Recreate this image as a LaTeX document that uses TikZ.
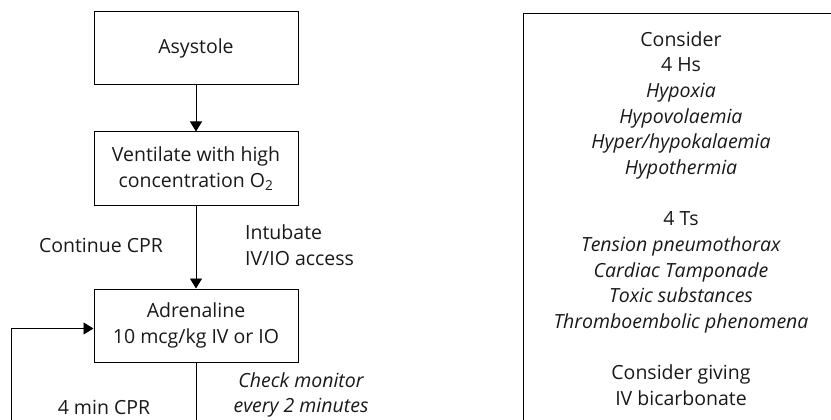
\documentclass[tikz,border=0pt]{standalone}
\usepackage{fontspec}
\setmainfont{Open Sans}
\usetikzlibrary{arrows.meta,calc}
\begin{document}
\begin{tikzpicture}[x=1pt,y=-1pt,
  txt/.style={font=\fontsize{19.5}{25.64}\selectfont, text=black!90, align=center, inner sep=0pt},
  stepbox/.style={draw, line width=1pt, rectangle, minimum width=204pt, minimum height=73pt, txt},
  conn/.style={line width=0.9pt, -{Triangle[length=10pt,width=12pt]}},
  plain/.style={line width=0.9pt}]
\useasboundingbox (0,0) rectangle (831,420);
\clip (0,0) rectangle (831,420);
\node[stepbox] (asy) at (196,48.5) {Asystole};
\node[stepbox] (ven) at (196,168.5) {Ventilate with high\\concentration O\textsubscript{2}};
\node[stepbox] (adr) at (196,325.5) {Adrenaline\\10 mcg/kg IV or IO};
\draw[conn] (asy) -- (ven);
\draw[conn] (ven) -- (adr);
\node[txt] (cont) at (101,245) {Continue CPR};
\node[txt, anchor=west, align=left] (intub) at (245,245) {Intubate\\IV/IO access};
\node[txt] (four) at (104,407) {4 min CPR};
\node[txt, font=\fontsize{19.5}{25.64}\selectfont\itshape] (check) at (301,395) {Check monitor\\every 2 minutes};
\coordinate (b1) at (196,430);
\coordinate (b2) at (11,430);
\draw[plain] (adr.south) -- (b1);
\draw[conn] (b2) |- ($(adr.west)+(0,3)$);
\draw[line width=1pt] (523,440) -- (523,14) -- (845,14);
\node[txt] (cons) at (681,218.5) {Consider\\4 Hs\\\textit{Hypoxia}\\\textit{Hypovolaemia}\\\textit{Hyper/hypokalaemia}\\\textit{Hypothermia}\\\mbox{}\\4 Ts\\\textit{Tension pneumothorax}\\\textit{Cardiac Tamponade}\\\textit{Toxic substances}\\\textit{Thromboembolic phenomena}\\\mbox{}\\Consider giving\\IV bicarbonate};
\end{tikzpicture}
\end{document}
